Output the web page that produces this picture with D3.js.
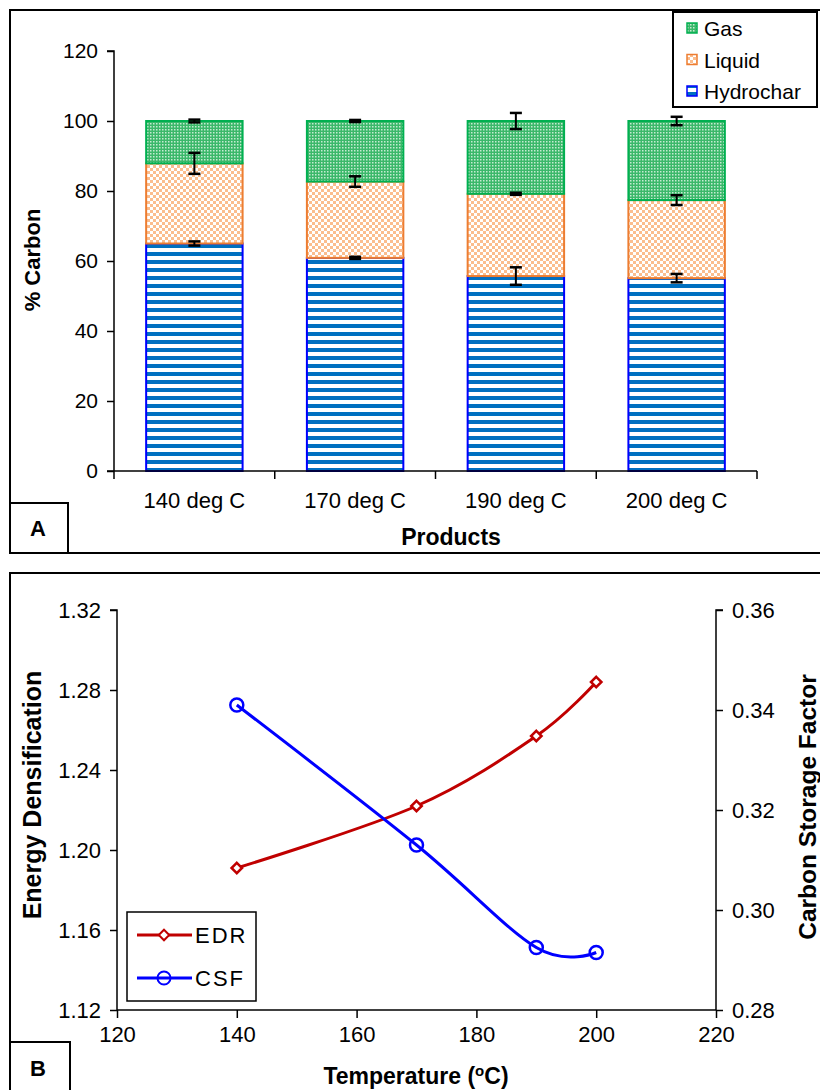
<!DOCTYPE html>
<html>
<head>
<meta charset="utf-8">
<script src="https://cdn.jsdelivr.net/npm/d3@7"></script>
<style>
  html, body { margin: 0; padding: 0; background: #fff; }
  svg { display: block; }
  text { font-family: "Liberation Sans", Arial, sans-serif; fill: #000; }
</style>
</head>
<body>
<svg id="chart" width="820" height="1090"></svg>
<script>
// ---- Panel A: carbon distribution among products ----
const categories = ["140 deg C", "170 deg C", "190 deg C", "200 deg C"];
const hydrochar = [65.0, 60.9, 55.7, 55.1];
const liquid = [22.9, 21.8, 23.5, 22.3];
const gas = [12.1, 17.3, 20.8, 22.6];
const hydrocharErr = [0.6, 0.3, 2.5, 1.2];
const liquidErr = [3.0, 1.5, 0.3, 1.4];
const gasErr = [0.4, 0.3, 2.3, 1.2];
const yTicksA = [0, 20, 40, 60, 80, 100, 120];

// ---- Panel B: energy densification and carbon storage factor ----
const temperature = [140, 170, 190, 200];
const edr = [1.191, 1.222, 1.257, 1.284];
const csf = [0.341, 0.313, 0.2925, 0.2915];
const xTicksB = [120, 140, 160, 180, 200, 220];
const yTicksLeft = [1.12, 1.16, 1.20, 1.24, 1.28, 1.32];
const yTicksRight = [0.28, 0.30, 0.32, 0.34, 0.36];

const svg = d3.select("#chart");
const defs = svg.append("defs");

// fill patterns
const pH = defs.append("pattern").attr("id", "patHydro").attr("patternUnits", "userSpaceOnUse")
  .attr("width", 8).attr("height", 8);
pH.append("rect").attr("width", 8).attr("height", 8).attr("fill", "#fff");
pH.append("rect").attr("y", 4).attr("width", 8).attr("height", 4).attr("fill", "#0070c0");

const pL = defs.append("pattern").attr("id", "patLiquid").attr("patternUnits", "userSpaceOnUse")
  .attr("width", 6).attr("height", 6);
pL.append("rect").attr("width", 6).attr("height", 6).attr("fill", "#fff");
pL.append("rect").attr("width", 3).attr("height", 3).attr("fill", "#fbbd8e");
pL.append("rect").attr("x", 3).attr("y", 3).attr("width", 3).attr("height", 3).attr("fill", "#fbbd8e");

const pG = defs.append("pattern").attr("id", "patGas").attr("patternUnits", "userSpaceOnUse")
  .attr("width", 3).attr("height", 3);
pG.append("rect").attr("width", 3).attr("height", 3).attr("fill", "#3bb86a");
pG.append("rect").attr("width", 1.5).attr("height", 1.5).attr("fill", "#c4ebd1");

const series = [
  { name: "Hydrochar", values: hydrochar, err: hydrocharErr, fill: "url(#patHydro)", stroke: "#0000ff" },
  { name: "Liquid", values: liquid, err: liquidErr, fill: "url(#patLiquid)", stroke: "#ed7d31" },
  { name: "Gas", values: gas, err: gasErr, fill: "url(#patGas)", stroke: "#00b050" }
];

// ===== Panel A =====
const gA = svg.append("g");
gA.append("rect").attr("x", 10).attr("y", 10).attr("width", 830).attr("height", 543)
  .attr("fill", "#fff").attr("stroke", "#000").attr("stroke-width", 2);

const xA = d3.scaleBand().domain(categories).range([114, 757]).paddingInner(0.4).paddingOuter(0.2);
const yA = d3.scaleLinear().domain([0, 120]).range([471, 51]);

const stackData = categories.map((c, i) => {
  let base = 0;
  return series.map(s => {
    const seg = { cat: c, y0: base, y1: base + s.values[i], err: s.err[i], s };
    base += s.values[i];
    return seg;
  });
});

series.forEach((s, si) => {
  gA.selectAll(null).data(stackData.map(d => d[si])).enter().append("rect")
    .attr("x", d => xA(d.cat))
    .attr("width", xA.bandwidth())
    .attr("y", d => yA(d.y1))
    .attr("height", d => yA(d.y0) - yA(d.y1))
    .attr("fill", s.fill)
    .attr("stroke", s.stroke)
    .attr("stroke-width", 2);
});

// error bars at the top of each segment
const allSegs = stackData.flat();
const eb = gA.selectAll(null).data(allSegs).enter().append("g")
  .attr("stroke", "#000").attr("stroke-width", 2);
eb.append("line")
  .attr("x1", d => xA(d.cat) + xA.bandwidth() / 2).attr("x2", d => xA(d.cat) + xA.bandwidth() / 2)
  .attr("y1", d => yA(d.y1 + d.err)).attr("y2", d => yA(d.y1 - d.err));
[1, -1].forEach(sign => {
  eb.append("line")
    .attr("x1", d => xA(d.cat) + xA.bandwidth() / 2 - 6).attr("x2", d => xA(d.cat) + xA.bandwidth() / 2 + 6)
    .attr("y1", d => yA(d.y1 + sign * d.err)).attr("y2", d => yA(d.y1 + sign * d.err))
    .attr("stroke-width", 2.5);
});

// y axis
const yAxisA = d3.axisLeft(yA).tickValues(yTicksA).tickSize(7).tickPadding(9).tickFormat(d3.format("d"));
const gyA = gA.append("g").attr("transform", "translate(114,0)").call(yAxisA);
gyA.select(".domain").attr("d", "M-7,51H0V471").attr("stroke-width", 1.5);
gyA.selectAll(".tick line").attr("stroke-width", 1.5);
gyA.selectAll(".tick text").style("font-size", "21px");

// x axis with ticks at category boundaries
const gxA = gA.append("g").attr("transform", "translate(0,471)");
gxA.append("line").attr("x1", 107).attr("x2", 757).attr("stroke", "#000").attr("stroke-width", 1.5);
const bounds = categories.map((c, i) => i === 0 ? 114 : xA(c) - xA.step() * xA.paddingInner() / 2);
bounds.push(757);
gxA.selectAll(null).data(bounds).enter().append("line")
  .attr("x1", d => d).attr("x2", d => d).attr("y1", 0).attr("y2", 8)
  .attr("stroke", "#000").attr("stroke-width", 1.5);
gxA.selectAll(null).data(categories).enter().append("text")
  .attr("x", d => xA(d) + xA.bandwidth() / 2).attr("y", 37)
  .attr("text-anchor", "middle").style("font-size", "22px")
  .text(d => d);

// axis titles
gA.append("text").attr("transform", "translate(40,260) rotate(-90)")
  .attr("text-anchor", "middle").style("font-size", "22px").style("font-weight", "bold")
  .text("% Carbon");
gA.append("text").attr("x", 451).attr("y", 545).attr("text-anchor", "middle")
  .style("font-size", "23px").style("font-weight", "bold").text("Products");

// panel tag
gA.append("path").attr("d", "M10,503H68V553").attr("fill", "none").attr("stroke", "#000").attr("stroke-width", 2);
gA.append("text").attr("x", 38).attr("y", 536).attr("text-anchor", "middle")
  .style("font-size", "22px").style("font-weight", "bold").text("A");

// legend
const legA = gA.append("g");
legA.append("rect").attr("x", 673).attr("y", 12).attr("width", 144).attr("height", 95)
  .attr("fill", "#fff").attr("stroke", "#000").attr("stroke-width", 2);
const legItems = series.slice().reverse();
legItems.forEach((s, i) => {
  const cy = 28 + i * 31.5;
  legA.append("rect").attr("x", 687).attr("y", cy - 5).attr("width", 10).attr("height", 10)
    .attr("fill", s.fill).attr("stroke", s.stroke).attr("stroke-width", 1.5);
  legA.append("text").attr("x", 704).attr("y", cy + 8).style("font-size", "21px").text(s.name);
});

// ===== Panel B =====
const gB = svg.append("g");
gB.append("rect").attr("x", 10).attr("y", 573).attr("width", 830).attr("height", 540)
  .attr("fill", "#fff").attr("stroke", "#000").attr("stroke-width", 2);

const xB = d3.scaleLinear().domain([120, 220]).range([117, 716]);
const yL = d3.scaleLinear().domain([1.12, 1.32]).range([1010, 610]);
const yR = d3.scaleLinear().domain([0.28, 0.36]).range([1010, 610]);

const gxB = gB.append("g").attr("transform", "translate(0,1010)")
  .call(d3.axisBottom(xB).tickValues(xTicksB).tickSize(8).tickPadding(8).tickFormat(d3.format("d")));
gxB.select(".domain").attr("d", "M117,0H716").attr("stroke-width", 1.5);
gxB.selectAll(".tick line").attr("stroke-width", 1.5);
gxB.selectAll(".tick text").style("font-size", "22px");

const gyL = gB.append("g").attr("transform", "translate(117,0)")
  .call(d3.axisLeft(yL).tickValues(yTicksLeft).tickSize(7).tickPadding(9).tickFormat(d3.format(".2f")));
gyL.select(".domain").attr("d", "M-7,610H0V1010").attr("stroke-width", 1.5);
gyL.selectAll(".tick line").attr("stroke-width", 1.5);
gyL.selectAll(".tick text").style("font-size", "22px");

const gyR = gB.append("g").attr("transform", "translate(716,0)")
  .call(d3.axisRight(yR).tickValues(yTicksRight).tickSize(7).tickPadding(9).tickFormat(d3.format(".2f")));
gyR.select(".domain").attr("d", "M7,610H0V1010").attr("stroke-width", 1.5);
gyR.selectAll(".tick line").attr("stroke-width", 1.5);
gyR.selectAll(".tick text").style("font-size", "22px");

// smoothed series lines
const edrPts = temperature.map((t, i) => [xB(t), yL(edr[i])]);
const csfPts = temperature.map((t, i) => [xB(t), yR(csf[i])]);
const smooth = d3.line().curve(d3.curveCardinal.tension(0));

gB.append("path").attr("d", smooth(edrPts)).attr("fill", "none").attr("stroke", "#c00000").attr("stroke-width", 3);
gB.append("path").attr("d", smooth(csfPts)).attr("fill", "none").attr("stroke", "#0000ff").attr("stroke-width", 3);

const diamond = d3.symbol().type(d3.symbolDiamond2).size(70);
gB.selectAll(null).data(edrPts).enter().append("path")
  .attr("transform", d => `translate(${d[0]},${d[1]})`).attr("d", diamond)
  .attr("fill", "#fff").attr("stroke", "#c00000").attr("stroke-width", 2.5);
gB.selectAll(null).data(csfPts).enter().append("circle")
  .attr("cx", d => d[0]).attr("cy", d => d[1]).attr("r", 6.5)
  .attr("fill", "none").attr("stroke", "#0000ff").attr("stroke-width", 2.5);

// axis titles
gB.append("text").attr("transform", "translate(41,795) rotate(-90)")
  .attr("text-anchor", "middle").style("font-size", "25px").style("font-weight", "bold")
  .text("Energy Densification");
gB.append("text").attr("transform", "translate(816,807) rotate(-90)")
  .attr("text-anchor", "middle").style("font-size", "24.5px").style("font-weight", "bold")
  .text("Carbon Storage Factor");
const tT = gB.append("text").attr("x", 416).attr("y", 1084).attr("text-anchor", "middle")
  .style("font-size", "23px").style("font-weight", "bold");
tT.append("tspan").text("Temperature (");
tT.append("tspan").attr("dy", -8).style("font-size", "15px").text("o");
tT.append("tspan").attr("dy", 8).text("C)");

// panel tag
gB.append("path").attr("d", "M10,1042H70V1092").attr("fill", "none").attr("stroke", "#000").attr("stroke-width", 2);
gB.append("text").attr("x", 38).attr("y", 1076).attr("text-anchor", "middle")
  .style("font-size", "22px").style("font-weight", "bold").text("B");

// legend
const legB = gB.append("g");
legB.append("rect").attr("x", 127).attr("y", 912).attr("width", 129).attr("height", 89)
  .attr("fill", "#fff").attr("stroke", "#000").attr("stroke-width", 1.5);
const legBItems = [
  { name: "EDR", color: "#c00000", y: 935, marker: "diamond" },
  { name: "CSF", color: "#0000ff", y: 978, marker: "circle" }
];
legBItems.forEach(it => {
  legB.append("line").attr("x1", 137).attr("x2", 192).attr("y1", it.y).attr("y2", it.y)
    .attr("stroke", it.color).attr("stroke-width", 3);
  if (it.marker === "diamond") {
    legB.append("path").attr("transform", `translate(164,${it.y})`).attr("d", diamond)
      .attr("fill", "#fff").attr("stroke", it.color).attr("stroke-width", 2);
  } else {
    legB.append("circle").attr("cx", 164).attr("cy", it.y).attr("r", 6.5)
      .attr("fill", "none").attr("stroke", it.color).attr("stroke-width", 2);
  }
  legB.append("text").attr("x", 195).attr("y", it.y + 8).style("font-size", "22px")
    .style("letter-spacing", "2px").text(it.name);
});
</script>
</body>
</html>
